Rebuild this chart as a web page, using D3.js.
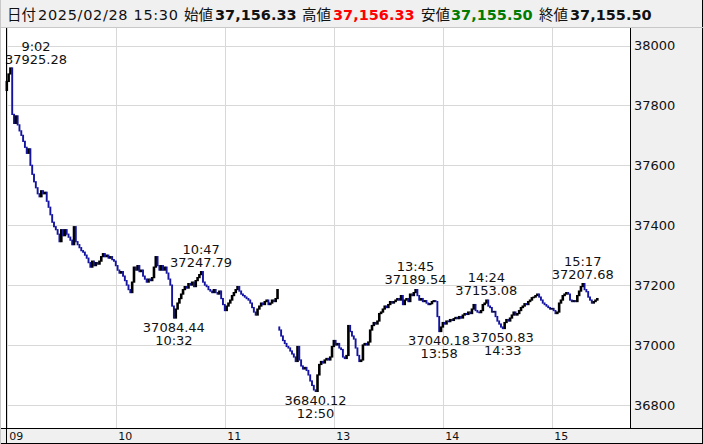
<!DOCTYPE html>
<html><head><meta charset="utf-8">
<script src="https://cdn.jsdelivr.net/npm/d3@7"></script>
<style>html,body{margin:0;padding:0;background:#fff;}svg{display:block;}</style>
</head><body>
<svg id="chart" width="703" height="444"></svg>
<script>
// ---- data ----
const headerDate = "2025/02/28 15:30";
const headerLabels = ["始値", "高値", "安値", "終値"];
const headerValues = ["37,156.33", "37,156.33", "37,155.50", "37,155.50"];
const sessionStarts = ["09:00", "12:30"];
const sessionOpens = [37850, 37060];
const amClose = [
37880,37905,37925,37770,37740,37765,37735,37715,37700,37680,
37660,37640,37655,37600,37570,37545,37525,37505,37495,37515,
37505,37510,37480,37460,37435,37410,37395,37385,37370,37345,
37385,37365,37385,37370,37360,37350,37335,37395,37345,37335,
37325,37315,37310,37300,37290,37275,37260,37280,37265,37275,
37270,37280,37295,37305,37295,37300,37290,37295,37285,37280,
37265,37250,37240,37245,37230,37215,37200,37185,37175,37210,
37260,37250,37265,37245,37250,37230,37220,37210,37220,37215,
37225,37260,37295,37265,37250,37265,37250,37260,37240,37220,
37200,37130,37090,37120,37140,37155,37170,37185,37195,37190,
37205,37200,37210,37195,37215,37225,37235,37245,37210,37200,
37195,37185,37180,37175,37185,37175,37170,37180,37155,37135,
37115,37130,37140,37150,37165,37175,37185,37195,37180,37170,
37165,37160,37155,37150,37140,37125,37110,37100,37120,37130,
37140,37135,37145,37150,37135,37140,37150,37145,37155,37185
];
const pmClose = [
37050,37030,37015,37005,36995,36990,36980,36970,36960,36945,
36995,36950,36930,36920,36925,36915,36900,36880,36865,36850,
36845,36900,36935,36945,36940,36950,36955,36950,36960,36995,
37015,37000,37005,36990,36985,36960,36955,36965,37065,37045,
37030,37020,36990,36965,36945,36950,37000,37005,37000,37010,
37050,37065,37075,37070,37080,37105,37110,37120,37130,37125,
37135,37145,37140,37145,37150,37155,37150,37165,37135,37150,
37155,37145,37170,37165,37175,37185,37165,37150,37155,37145,
37148,37140,37135,37138,37145,37148,37145,37095,37045,37060,
37075,37070,37080,37078,37085,37082,37088,37092,37088,37095,
37090,37100,37105,37102,37110,37105,37120,37135,37115,37110,
37108,37115,37135,37140,37150,37130,37125,37110,37112,37095,
37080,37070,37060,37055,37075,37085,37080,37090,37100,37110,
37100,37105,37115,37125,37130,37138,37135,37145,37150,37158,
37160,37165,37170,37160,37150,37140,37135,37130,37125,37120,
37122,37115,37105,37110,37140,37150,37165,37170,37175,37170,
37150,37145,37148,37145,37165,37180,37195,37205,37185,37178,
37160,37150,37140,37145,37150,37155
];
const yTicks = [36800, 37000, 37200, 37400, 37600, 37800, 38000];
const xTickTimes = ["09:00", "10:00", "11:00", "13:00", "14:00", "15:00"];
const xTickLabels = ["09", "10", "11", "13", "14", "15"];
const annTimes = ["9:02", "10:32", "10:47", "12:50", "13:45", "13:58", "14:24", "14:33", "15:17"];
const annValues = [37925.28, 37084.44, 37247.79, 36840.12, 37189.54, 37040.18, 37153.08, 37050.83, 37207.68];
const annKinds = ["high", "low", "high", "low", "high", "low", "high", "low", "high"];

// ---- helpers ----
function toMin(t) { const [h, m] = t.split(":").map(Number); return h * 60 + m; }
// session index: morning 9:00-11:30 -> 0..150 ; afternoon 12:30-15:30 -> 150..330
function sessIdx(t) {
  const m = toMin(t);
  return m <= toMin("11:30") ? m - toMin("09:00") : 150 + (m - toMin("12:30"));
}

const svg = d3.select("#chart");
const W = 703, H = 444;
const plotL = 6, plotR = 630, plotT = 27, plotB = 428;
const x = d3.scaleLinear().domain([0, 330]).range([6.7, 606.3]);
const y = d3.scaleLinear().domain([36800, 38000]).range([404.9, 45.5]);

// backgrounds
svg.append("rect").attr("x", 0).attr("y", 0).attr("width", W).attr("height", H).attr("fill", "#ffffff");
svg.append("rect").attr("x", plotR).attr("y", plotT).attr("width", W - plotR).attr("height", H - plotT).attr("fill", "#f0f0f0");
svg.append("rect").attr("x", 0).attr("y", plotB).attr("width", W).attr("height", H - plotB).attr("fill", "#f0f0f0");
svg.append("rect").attr("x", 0).attr("y", 0).attr("width", W).attr("height", plotT).attr("fill", "#f0f0f0");

// grid
const grid = svg.append("g");
yTicks.forEach(v => {
  grid.append("line").attr("x1", plotL).attr("x2", plotR).attr("y1", Math.round(y(v)) + 0.5).attr("y2", Math.round(y(v)) + 0.5)
    .attr("stroke", "#d8d8d8").attr("stroke-width", 1);
});
xTickTimes.forEach(t => {
  const xx = Math.round(x(sessIdx(t))) + 0.5;
  grid.append("line").attr("x1", xx).attr("x2", xx).attr("y1", plotT).attr("y2", plotB)
    .attr("stroke", "#d8d8d8").attr("stroke-width", 1);
});

// axes (right value axis, bottom time axis) via d3 axis generators
const yAxis = d3.axisRight(y).tickValues(yTicks).tickSize(0).tickPadding(4).tickFormat(d3.format("d"));
const gy = svg.append("g").attr("transform", `translate(${plotR},0)`).call(yAxis);
gy.select(".domain").remove();
gy.selectAll("text").attr("font-family", "DejaVu Sans, Verdana, sans-serif").attr("font-size", 13).attr("fill", "#111");

const xAxis = d3.axisBottom(x).tickValues(xTickTimes.map(sessIdx)).tickSize(0)
  .tickFormat((d, i) => xTickLabels[i]);
const gx = svg.append("g").attr("transform", `translate(0,${plotB})`).call(xAxis);
gx.select(".domain").remove();
gx.selectAll("text").attr("font-family", "Tahoma, DejaVu Sans, sans-serif").attr("font-size", 11)
  .attr("fill", "#111").attr("text-anchor", "start").attr("dx", 2).attr("dy", 0).attr("y", 12);
gx.selectAll(".tick").each(function(d) { d3.select(this).select("text").attr("x", 0); });

// candles
const candles = [];
[amClose, pmClose].forEach((arr, s) => {
  const base = sessIdx(sessionStarts[s]);
  let prev = sessionOpens[s];
  arr.forEach((c, i) => {
    candles.push({ idx: base + i, open: prev, close: c });
    prev = c;
  });
});
svg.append("g").selectAll("rect").data(candles).join("rect")
  .attr("x", d => x(d.idx) - (d.close >= d.open ? 1.2 : 0.9))
  .attr("width", d => d.close >= d.open ? 2.6 : 1.9)
  .attr("y", d => Math.min(y(d.open), y(d.close)) - 0.6)
  .attr("height", d => Math.abs(y(d.open) - y(d.close)) + 1.2)
  .attr("fill", d => d.close >= d.open ? "#000000" : "#1414a0");

// annotations
const ann = svg.append("g").attr("font-family", "DejaVu Sans, Verdana, sans-serif").attr("font-size", 13).attr("fill", "#111");
annTimes.forEach((t, i) => {
  const v = annValues[i];
  let cx = x(sessIdx(t.padStart(5, "0")));
  const yy = y(v);
  cx = Math.max(cx, 36);
  const vs = v.toFixed(2);
  if (annKinds[i] === "high") {
    ann.append("text").attr("x", cx).attr("y", yy - 17).attr("text-anchor", "middle").text(t);
    ann.append("text").attr("x", cx).attr("y", yy - 4).attr("text-anchor", "middle").text(vs);
  } else {
    ann.append("text").attr("x", cx).attr("y", yy + 12).attr("text-anchor", "middle").text(vs);
    ann.append("text").attr("x", cx).attr("y", yy + 25).attr("text-anchor", "middle").text(t);
  }
});

// borders
const bc = "#000";
svg.append("line").attr("x1", plotL + 0.5).attr("x2", plotL + 0.5).attr("y1", plotT).attr("y2", H).attr("stroke", bc);
svg.append("line").attr("x1", plotR + 0.5).attr("x2", plotR + 0.5).attr("y1", plotT).attr("y2", plotB).attr("stroke", bc);
svg.append("line").attr("x1", 0).attr("x2", W).attr("y1", plotB + 0.5).attr("y2", plotB + 0.5).attr("stroke", bc);
svg.append("line").attr("x1", 0).attr("x2", W).attr("y1", H - 0.5).attr("y2", H - 0.5).attr("stroke", bc);
svg.append("line").attr("x1", W - 0.5).attr("x2", W - 0.5).attr("y1", 0).attr("y2", H).attr("stroke", bc);
svg.append("line").attr("x1", 0).attr("x2", W).attr("y1", plotT + 0.5).attr("y2", plotT + 0.5).attr("stroke", "#c8c8c8");
svg.append("line").attr("x1", 0.5).attr("x2", 0.5).attr("y1", 0).attr("y2", H).attr("stroke", "#c8c8c8");

// header: each piece placed at its position in the reference
const hdr = svg.append("g").attr("font-size", 14.5).attr("fill", "#111");
const cjk = "'Noto Sans CJK JP', sans-serif";
const lat = "DejaVu Sans, Verdana, sans-serif";
const hy = 19.5;
hdr.append("text").attr("x", 7).attr("y", hy).attr("font-family", cjk).text("日付");
hdr.append("text").attr("x", 38).attr("y", hy).attr("font-family", lat).attr("textLength", 140).attr("lengthAdjust", "spacing").text(headerDate);
const labX = [184, 302, 421, 539];
const valX = [215, 333, 451, 570];
const valColors = ["#111", "#ff0000", "#007a00", "#111"];
headerLabels.forEach((lab, i) => {
  hdr.append("text").attr("x", labX[i]).attr("y", hy).attr("font-family", cjk).text(lab);
  hdr.append("text").attr("x", valX[i]).attr("y", hy).attr("font-family", lat).attr("font-weight", "bold")
    .attr("fill", valColors[i]).text(headerValues[i]);
});
</script>
</body></html>
